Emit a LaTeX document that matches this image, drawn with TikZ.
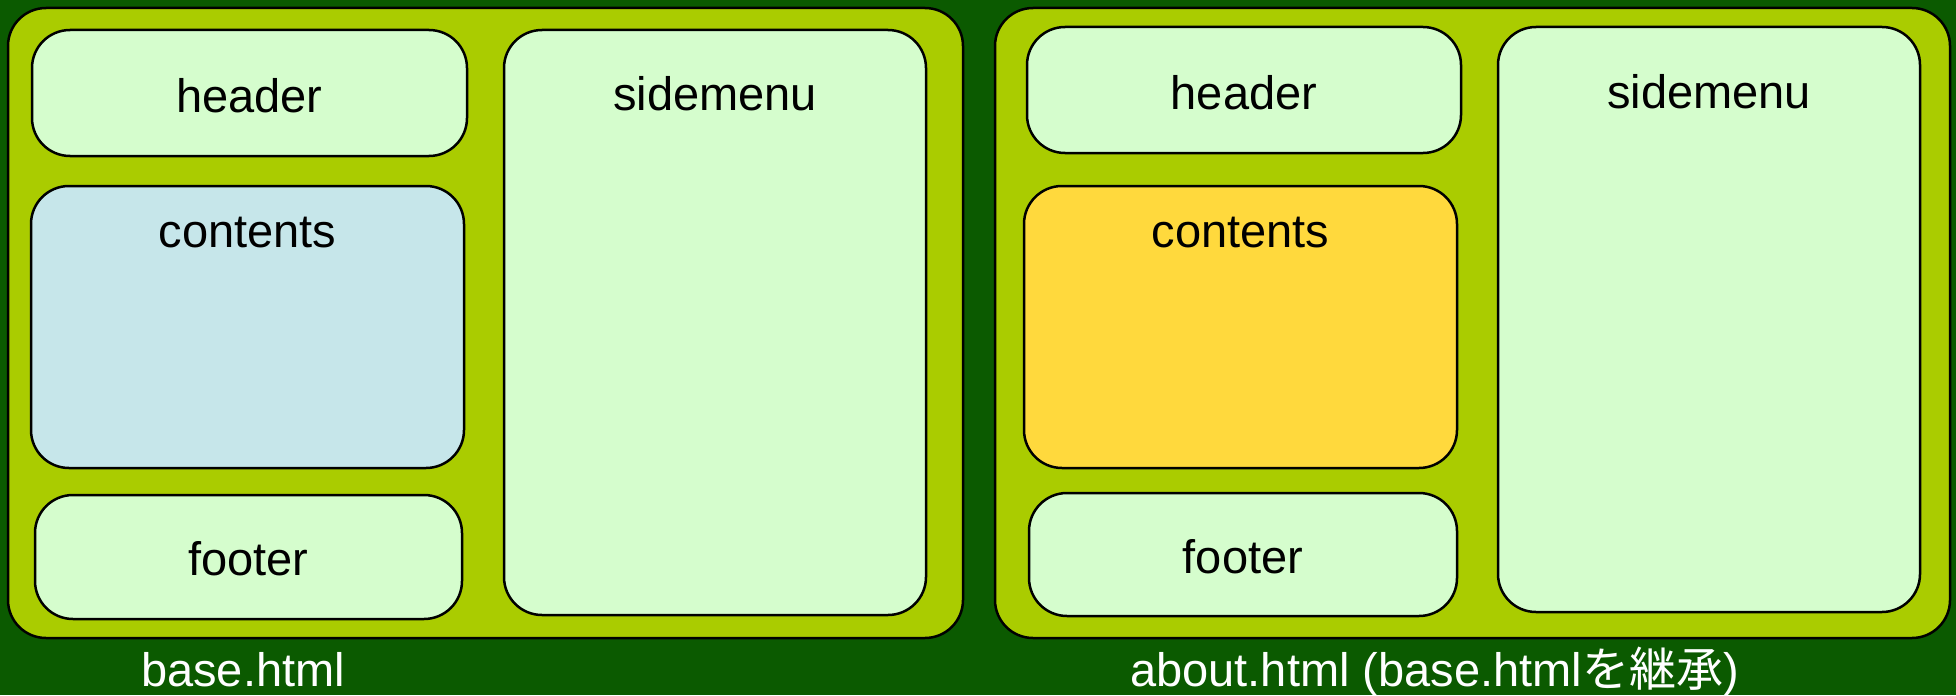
\documentclass[tikz,border=0pt]{standalone}
\usepackage{fontspec}
\setmainfont{Liberation Sans}
\newfontfamily\jpfont{Noto Sans CJK JP}
\definecolor{bggreen}{HTML}{0B5A00}
\definecolor{pagegreen}{HTML}{AACC00}
\definecolor{partgreen}{HTML}{D5FDCD}
\definecolor{partblue}{HTML}{C6E6EA}
\definecolor{partyellow}{HTML}{FFD93D}
\begin{document}
\begin{tikzpicture}[x=1pt,y=-1pt]

  \tikzstyle{page}=[draw=black,line width=2.5pt,fill=pagegreen,rounded corners=38pt,minimum width=955pt,minimum height=630pt,inner sep=0pt]
  \tikzstyle{part}=[draw=black,line width=2.5pt,fill=partgreen,rounded corners=38pt,inner sep=0pt]
  \tikzstyle{word}=[anchor=base,inner sep=0pt,font=\fontsize{47}{56}\selectfont]
  \tikzstyle{caption}=[word,text=white]

  \fill[bggreen] (0,0) rectangle (1956,695);

  % base.html
  \node[page] (base) at (485.5,323) {};
  \node[part,minimum width=435pt,minimum height=126pt] (bheader) at (249.5,93) {};
  \node[part,fill=partblue,minimum width=433pt,minimum height=282pt] (bcontents) at (247.5,327) {};
  \node[part,minimum width=427pt,minimum height=124pt] (bfooter) at (248.5,557) {};
  \node[part,minimum width=422pt,minimum height=585pt] (bside) at (715,322.5) {};

  \node[word] (bheader text) at (249.5,112) {header};
  \node[word] (bcontents text) at (247.5,247) {contents};
  \node[word] (bfooter text) at (248.5,575) {footer};
  \node[word] (bside text) at (715,110) {sidemenu};

  % about.html
  \node[page] (about) at (1472.5,323) {};
  \node[part,minimum width=434pt,minimum height=126pt] (aheader) at (1244,90) {};
  \node[part,fill=partyellow,minimum width=433pt,minimum height=282pt] (acontents) at (1240.5,327) {};
  \node[part,minimum width=428pt,minimum height=123pt] (afooter) at (1243,554.5) {};
  \node[part,minimum width=422pt,minimum height=585pt] (aside) at (1709,319.5) {};

  \node[word] (aheader text) at (1244,109) {header};
  \node[word] (acontents text) at (1240.5,247) {contents};
  \node[word] (afooter text) at (1243,573) {footer};
  \node[word] (aside text) at (1709,108) {sidemenu};

  \node[caption] (base name) at (243,686) {base.html};
  \node[caption,anchor=base west] (about name) at (1130,686) {about.html (base.html{\jpfont を継承})};

\end{tikzpicture}
\end{document}
